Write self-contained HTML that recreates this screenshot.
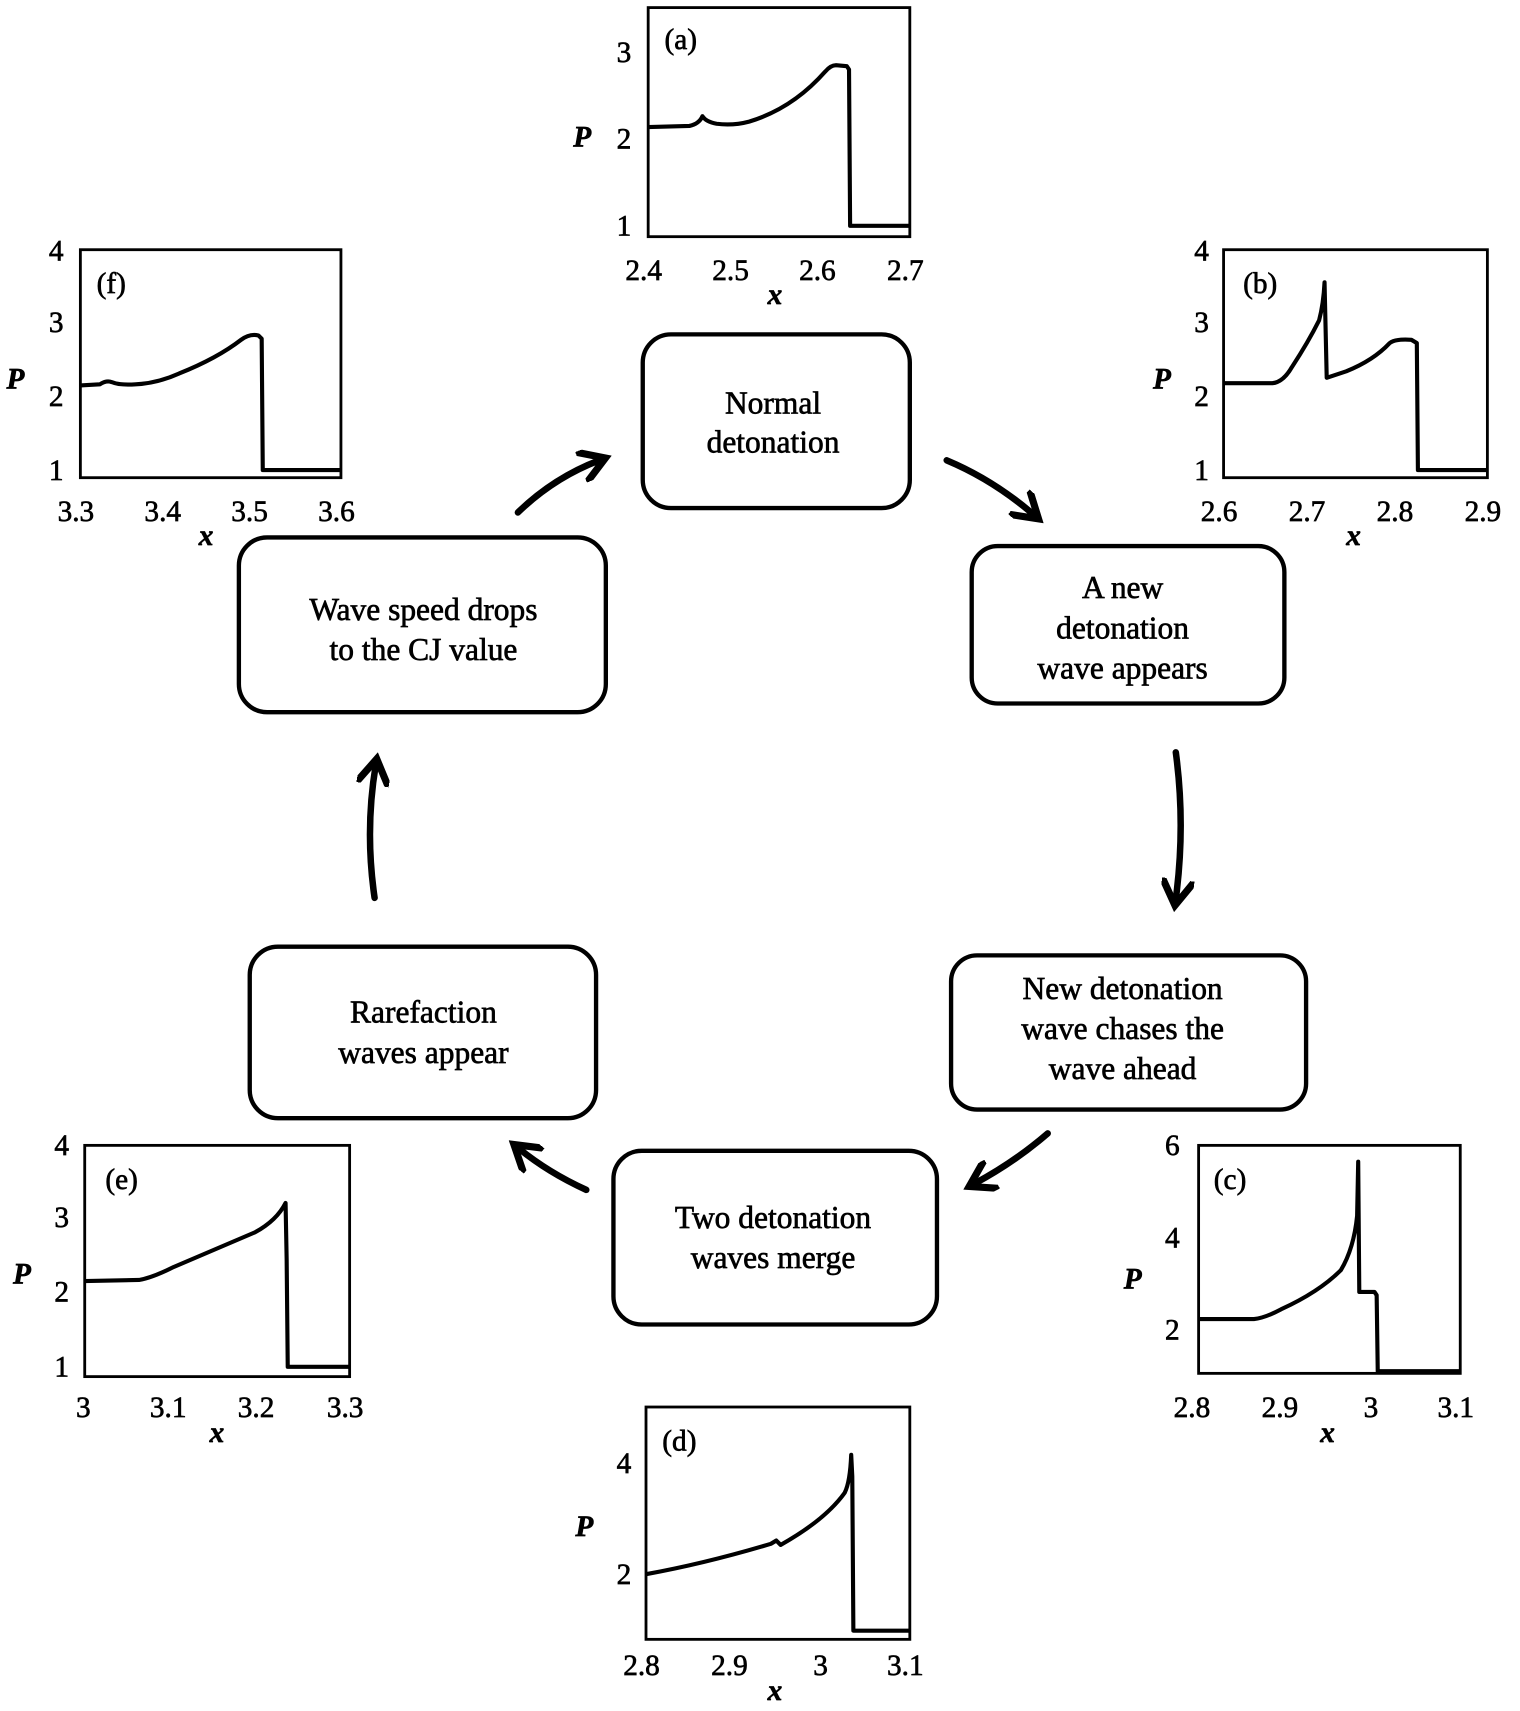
<!DOCTYPE html>
<html><head><meta charset="utf-8"><style>
html,body{margin:0;padding:0;background:#fff}
svg{display:block}
text{font-family:"Liberation Serif",serif;fill:#000;stroke:#000;stroke-width:0.6}
.t{font-size:27px}
.b{font-size:29px;text-anchor:middle}
.ax{font-size:27px;font-style:italic;font-weight:bold}
.f{fill:none;stroke:#000;stroke-width:2.6}
.c{fill:none;stroke:#000;stroke-width:3.8;stroke-linejoin:round}
.bx{fill:none;stroke:#000;stroke-width:4}
.ar{fill:none;stroke:#000;stroke-width:6;stroke-linecap:round}
</style></head><body>
<svg width="1520" height="1711" viewBox="0 0 1400 1576" xmlns="http://www.w3.org/2000/svg">
<defs><marker id="m" viewBox="0 0 10 10" refX="6" refY="5" markerWidth="5" markerHeight="5" orient="auto"><path d="M0,0 L8,5 L0,10" fill="none" stroke="#000" stroke-width="2.2" stroke-linecap="round"/></marker></defs>

<!-- (a) -->
<rect class="f" x="597" y="7" width="241" height="211"/>
<text class="t" x="612" y="45">(a)</text>
<text class="t" x="568" y="57">3</text><text class="t" x="568" y="137">2</text><text class="t" x="568" y="217">1</text>
<text class="ax" x="528" y="135">P</text>
<text class="t" x="576" y="258">2.4</text><text class="t" x="656" y="258">2.5</text><text class="t" x="736" y="258">2.6</text><text class="t" x="817" y="258">2.7</text>
<text class="ax" x="707" y="280">x</text>
<path class="c" d="M597,117 L635,116 Q644,114 647,107 Q650,112 660,114 Q675,116 690,112 Q730,100 760,66 Q765,60 770,60 L780,61 L782,64 L783,208 L838,208"/>

<!-- (f) -->
<rect class="f" x="74" y="230" width="240" height="210"/>
<text class="t" x="89" y="270">(f)</text>
<text class="t" x="45" y="240">4</text><text class="t" x="45" y="306">3</text><text class="t" x="45" y="374">2</text><text class="t" x="45" y="442">1</text>
<text class="ax" x="6" y="358">P</text>
<text class="t" x="53" y="480">3.3</text><text class="t" x="133" y="480">3.4</text><text class="t" x="213" y="480">3.5</text><text class="t" x="293" y="480">3.6</text>
<text class="ax" x="183" y="502">x</text>
<path class="c" d="M74,355 L92,354 Q98,350 103,352 Q110,355 125,354 Q145,353 165,344 Q200,330 222,313 Q230,307 238,309 L241,312 L242,433 L314,433"/>

<!-- (b) -->
<rect class="f" x="1127" y="230" width="243" height="210"/>
<text class="t" x="1145" y="270">(b)</text>
<text class="t" x="1100" y="240">4</text><text class="t" x="1100" y="306">3</text><text class="t" x="1100" y="374">2</text><text class="t" x="1100" y="442">1</text>
<text class="ax" x="1062" y="358">P</text>
<text class="t" x="1106" y="480">2.6</text><text class="t" x="1187" y="480">2.7</text><text class="t" x="1268" y="480">2.8</text><text class="t" x="1349" y="480">2.9</text>
<text class="ax" x="1240" y="502">x</text>
<path class="c" d="M1127,353 L1172,353 Q1182,352 1190,338 Q1205,315 1215,295 Q1219,280 1220,260 L1222,348 L1240,342 Q1265,332 1280,316 Q1285,312 1300,313 L1305,316 L1306,433 L1370,433"/>

<!-- (c) -->
<rect class="f" x="1104" y="1055" width="241" height="210"/>
<text class="t" x="1118" y="1095">(c)</text>
<text class="t" x="1073" y="1064">6</text><text class="t" x="1073" y="1149">4</text><text class="t" x="1073" y="1234">2</text>
<text class="ax" x="1035" y="1187">P</text>
<text class="t" x="1081" y="1305">2.8</text><text class="t" x="1162" y="1305">2.9</text><text class="t" x="1256" y="1305">3</text><text class="t" x="1324" y="1305">3.1</text>
<text class="ax" x="1216" y="1328">x</text>
<path class="c" d="M1104,1215 L1155,1215 Q1165,1214 1180,1206 Q1215,1190 1235,1170 Q1247,1150 1250,1120 L1251,1070 L1252,1190 L1266,1190 L1268,1193 L1269,1263 L1345,1263"/>

<!-- (d) -->
<rect class="f" x="595" y="1296" width="243" height="214"/>
<text class="t" x="610" y="1336">(d)</text>
<text class="t" x="568" y="1357">4</text><text class="t" x="568" y="1459">2</text>
<text class="ax" x="530" y="1415">P</text>
<text class="t" x="574" y="1543">2.8</text><text class="t" x="655" y="1543">2.9</text><text class="t" x="749" y="1543">3</text><text class="t" x="817" y="1543">3.1</text>
<text class="ax" x="707" y="1566">x</text>
<path class="c" d="M595,1450 Q650,1440 710,1422 L715,1419 L719,1423 Q760,1400 778,1375 Q783,1365 784,1340 L785,1360 L786,1502 L838,1502"/>

<!-- (e) -->
<rect class="f" x="78" y="1055" width="244" height="213"/>
<text class="t" x="97" y="1095">(e)</text>
<text class="t" x="50" y="1064">4</text><text class="t" x="50" y="1130">3</text><text class="t" x="50" y="1199">2</text><text class="t" x="50" y="1268">1</text>
<text class="ax" x="12" y="1182">P</text>
<text class="t" x="70" y="1305">3</text><text class="t" x="138" y="1305">3.1</text><text class="t" x="219" y="1305">3.2</text><text class="t" x="301" y="1305">3.3</text>
<text class="ax" x="193" y="1328">x</text>
<path class="c" d="M78,1180 L128,1179 Q140,1177 160,1167 Q200,1150 235,1135 Q255,1124 263,1108 L264,1160 L265,1259 L322,1259"/>

<!-- boxes -->
<rect class="bx" x="592" y="308" width="246" height="160" rx="26"/>
<text class="b" x="712" y="381">Normal</text><text class="b" x="712" y="417">detonation</text>
<rect class="bx" x="895" y="503" width="288" height="145" rx="24"/>
<text class="b" x="1034" y="551">A new</text><text class="b" x="1034" y="588">detonation</text><text class="b" x="1034" y="625">wave appears</text>
<rect class="bx" x="876" y="880" width="327" height="142" rx="24"/>
<text class="b" x="1034" y="920">New detonation</text><text class="b" x="1034" y="957">wave chases the</text><text class="b" x="1034" y="994">wave ahead</text>
<rect class="bx" x="565" y="1060" width="298" height="160" rx="26"/>
<text class="b" x="712" y="1131">Two detonation</text><text class="b" x="712" y="1168">waves merge</text>
<rect class="bx" x="230" y="872" width="319" height="158" rx="26"/>
<text class="b" x="390" y="942">Rarefaction</text><text class="b" x="390" y="979">waves appear</text>
<rect class="bx" x="220" y="495" width="338" height="161" rx="26"/>
<text class="b" x="390" y="571">Wave speed drops</text><text class="b" x="390" y="608">to the CJ value</text>

<!-- arrows -->
<path class="ar" marker-end="url(#m)" d="M477,472 Q510,440 552,424"/>
<path class="ar" marker-end="url(#m)" d="M872,424 Q915,442 952,474"/>
<path class="ar" marker-end="url(#m)" d="M1083,693 Q1092,760 1083,828"/>
<path class="ar" marker-end="url(#m)" d="M965,1044 Q935,1070 898,1090"/>
<path class="ar" marker-end="url(#m)" d="M540,1096 Q505,1080 478,1058"/>
<path class="ar" marker-end="url(#m)" d="M345,827 Q336,765 346,705"/>
</svg>
</body></html>
